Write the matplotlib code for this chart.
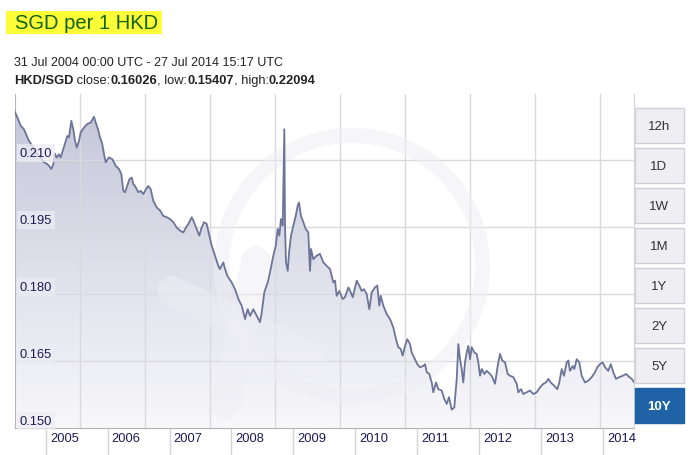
import matplotlib.pyplot as plt
import numpy as np
from matplotlib.patches import Polygon, Rectangle, Wedge
from matplotlib.lines import Line2D
from matplotlib.transforms import IdentityTransform

plt.rcParams['font.family'] = ['Liberation Sans', 'DejaVu Sans']

# decimal years and SGD per 1 HKD
years = [2004.499, 2004.541, 2004.596, 2004.649, 2004.703, 2004.730, 2004.784, 2004.822,
         2004.864, 2004.919, 2004.973, 2005.026, 2005.053, 2005.090, 2005.123, 2005.145,
         2005.178, 2005.215, 2005.242, 2005.284, 2005.323, 2005.349, 2005.376, 2005.414,
         2005.446, 2005.473, 2005.501, 2005.538, 2005.565, 2005.619, 2005.672, 2005.727,
         2005.780, 2005.808, 2005.845, 2005.877, 2005.914, 2005.942, 2005.969, 2006.023,
         2006.076, 2006.131, 2006.184, 2006.221, 2006.254, 2006.281, 2006.309, 2006.351,
         2006.389, 2006.415, 2006.443, 2006.470, 2006.496, 2006.535, 2006.577, 2006.620,
         2006.658, 2006.696, 2006.738, 2006.793, 2006.847, 2006.900, 2006.955, 2007.008,
         2007.061, 2007.116, 2007.170, 2007.223, 2007.267, 2007.304, 2007.359, 2007.396,
         2007.439, 2007.481, 2007.520, 2007.557, 2007.601, 2007.643, 2007.682, 2007.735,
         2007.788, 2007.816, 2007.869, 2007.897, 2007.934, 2007.966, 2008.005, 2008.058,
         2008.112, 2008.166, 2008.220, 2008.263, 2008.301, 2008.354, 2008.409, 2008.462,
         2008.490, 2008.532, 2008.586, 2008.624, 2008.677, 2008.716, 2008.748, 2008.774,
         2008.801, 2008.829, 2008.855, 2008.866, 2008.882, 2008.910, 2008.931, 2008.963,
         2009.000, 2009.039, 2009.071, 2009.092, 2009.124, 2009.162, 2009.200, 2009.242,
         2009.270, 2009.286, 2009.323, 2009.378, 2009.431, 2009.485, 2009.540, 2009.593,
         2009.646, 2009.674, 2009.701, 2009.743, 2009.798, 2009.835, 2009.889, 2009.927,
         2009.960, 2010.024, 2010.066, 2010.105, 2010.142, 2010.186, 2010.228, 2010.267,
         2010.320, 2010.357, 2010.389, 2010.412, 2010.454, 2010.509, 2010.562, 2010.616,
         2010.659, 2010.696, 2010.735, 2010.767, 2010.805, 2010.842, 2010.885, 2010.913,
         2010.966, 2011.003, 2011.047, 2011.100, 2011.128, 2011.155, 2011.197, 2011.236,
         2011.262, 2011.305, 2011.342, 2011.397, 2011.439, 2011.478, 2011.515, 2011.559,
         2011.601, 2011.640, 2011.666, 2011.693, 2011.720, 2011.746, 2011.774, 2011.801,
         2011.827, 2011.855, 2011.882, 2011.924, 2011.963, 2011.989, 2012.016, 2012.044,
         2012.086, 2012.124, 2012.178, 2012.215, 2012.259, 2012.302, 2012.339, 2012.376,
         2012.420, 2012.464, 2012.501, 2012.554, 2012.609, 2012.635, 2012.679, 2012.716,
         2012.771, 2012.824, 2012.877, 2012.932, 2012.986, 2013.039, 2013.082, 2013.120,
         2013.158, 2013.212, 2013.265, 2013.297, 2013.336, 2013.373, 2013.417, 2013.443,
         2013.470, 2013.514, 2013.540, 2013.578, 2013.620, 2013.659, 2013.712, 2013.766,
         2013.821, 2013.874, 2013.911, 2013.955, 2013.998, 2014.036, 2014.089, 2014.128,
         2014.170, 2014.213, 2014.267, 2014.322, 2014.375, 2014.428, 2014.467, 2014.504]
rates = [0.2209, 0.2196, 0.2177, 0.2169, 0.2151, 0.2143, 0.2132, 0.2121,
         0.2113, 0.2106, 0.2095, 0.2091, 0.2087, 0.2080, 0.2091, 0.2115,
         0.2106, 0.2113, 0.2106, 0.2125, 0.2143, 0.2154, 0.2151, 0.2188,
         0.2169, 0.2143, 0.2128, 0.2143, 0.2162, 0.2173, 0.2181, 0.2184,
         0.2197, 0.2184, 0.2169, 0.2151, 0.2136, 0.2113, 0.2095, 0.2106,
         0.2102, 0.2087, 0.2080, 0.2069, 0.2031, 0.2028, 0.2039, 0.2057,
         0.2061, 0.2046, 0.2042, 0.2035, 0.2028, 0.2031, 0.2024, 0.2035,
         0.2042, 0.2035, 0.2009, 0.1994, 0.1987, 0.1975, 0.1972, 0.1968,
         0.1961, 0.1949, 0.1942, 0.1938, 0.1949, 0.1957, 0.1972, 0.1961,
         0.1946, 0.1931, 0.1949, 0.1961, 0.1957, 0.1931, 0.1908, 0.1886,
         0.1863, 0.1856, 0.1871, 0.1856, 0.1841, 0.1834, 0.1826, 0.1811,
         0.1789, 0.1774, 0.1744, 0.1766, 0.1751, 0.1766, 0.1751, 0.1737,
         0.1759, 0.1804, 0.1826, 0.1849, 0.1886, 0.1908, 0.1946, 0.1931,
         0.1968, 0.1953, 0.2169, 0.1953, 0.1871, 0.1852, 0.1893, 0.1931,
         0.1953, 0.1975, 0.1998, 0.2005, 0.1975, 0.1961, 0.1946, 0.1938,
         0.1852, 0.1901, 0.1878, 0.1886, 0.1890, 0.1871, 0.1863, 0.1856,
         0.1826, 0.1830, 0.1796, 0.1807, 0.1789, 0.1793, 0.1815, 0.1804,
         0.1793, 0.1830, 0.1819, 0.1807, 0.1811, 0.1800, 0.1766, 0.1804,
         0.1815, 0.1819, 0.1774, 0.1796, 0.1774, 0.1755, 0.1744, 0.1725,
         0.1699, 0.1681, 0.1677, 0.1662, 0.1684, 0.1699, 0.1688, 0.1669,
         0.1654, 0.1643, 0.1636, 0.1639, 0.1643, 0.1625, 0.1621, 0.1602,
         0.1580, 0.1602, 0.1587, 0.1584, 0.1565, 0.1554, 0.1569, 0.1541,
         0.1546, 0.1610, 0.1688, 0.1654, 0.1632, 0.1602, 0.1647, 0.1669,
         0.1684, 0.1654, 0.1681, 0.1669, 0.1666, 0.1647, 0.1617, 0.1632,
         0.1621, 0.1628, 0.1621, 0.1614, 0.1599, 0.1639, 0.1666, 0.1651,
         0.1647, 0.1621, 0.1617, 0.1614, 0.1599, 0.1580, 0.1587, 0.1576,
         0.1580, 0.1584, 0.1576, 0.1580, 0.1591, 0.1599, 0.1602, 0.1610,
         0.1602, 0.1595, 0.1587, 0.1602, 0.1632, 0.1617, 0.1647, 0.1651,
         0.1628, 0.1639, 0.1632, 0.1654, 0.1647, 0.1617, 0.1602, 0.1606,
         0.1614, 0.1625, 0.1636, 0.1643, 0.1647, 0.1636, 0.1628, 0.1643,
         0.1625, 0.1610, 0.1614, 0.1617, 0.1621, 0.1614, 0.1610, 0.1603]

y_ticks = [0.150, 0.165, 0.180, 0.195, 0.210]
year_ticks = [2005, 2006, 2007, 2008, 2009, 2010, 2011, 2012, 2013, 2014]
ranges = ['12h', '1D', '1W', '1M', '1Y', '2Y', '5Y', '10Y']
active_range = '10Y'
stats = [('HKD/SGD', 'bold'), (' close:', 'normal'), ('0.16026', 'bold'), (', low:', 'normal'),
         ('0.15407', 'bold'), (', high:', 'normal'), ('0.22094', 'bold')]

W, H = 696, 456
fig = plt.figure(figsize=(W / 100, H / 100), dpi=100)
ax = fig.add_axes([14.7 / W, 1 - 429 / H, (634 - 14.7) / W, (429 - 95) / H])

x0, x1 = years[0], years[-1]
y0, y1 = 0.150, 0.2248
ax.set_xlim(x0, x1)
ax.set_ylim(y0, y1)

# gradient fill under the curve
g = np.linspace(0, 1, 256)[:, None, None]
top_c = np.array([194, 197, 216]) / 255
bot_c = np.array([248, 248, 251]) / 255
img = top_c + (bot_c - top_c) * g
im = ax.imshow(img, extent=[x0, x1, y0, y1], origin='upper', aspect='auto', zorder=1)
verts = [(years[0], y0)] + list(zip(years, rates)) + [(years[-1], y0)]
clip = Polygon(verts, closed=True, facecolor='none', edgecolor='none', transform=ax.transData)
ax.add_patch(clip)
im.set_clip_path(clip)

# faint logo watermark (pixel coords, y measured from top)
wm_color, wm_alpha = '#eeeef4', 0.5
ax.add_artist(Wedge((352, H - 267), 138, 0, 360, width=15, transform=IdentityTransform(),
                    facecolor=wm_color, edgecolor='none', alpha=wm_alpha, zorder=3))
for (ax_, ay_), (bx_, by_) in [((172, 292), (312, 358)), ((226, 405), (256, 262))]:
    ax.add_artist(Line2D([ax_, bx_], [H - ay_, H - by_], transform=IdentityTransform(),
                         lw=21, solid_capstyle='round', color=wm_color,
                         alpha=wm_alpha, zorder=3))

# grid
for v in y_ticks[1:]:
    ax.axhline(v, color='#d9d9de', lw=1, zorder=2)
step = 65 / 61.9  # vertical grid spacing in years
for k in range(1, 10):
    ax.axvline(x0 + k * step, color='#d9d9de', lw=1, zorder=2)

ax.plot(years, rates, color='#6c7498', lw=1.3, zorder=4)

# y labels inside the plot
for v in y_ticks:
    ax.text(0.008, v + 0.0003, f'{v:.3f}', transform=ax.get_yaxis_transform(),
            fontsize=9.3, color='#1b1b58', va='bottom', ha='left', zorder=5,
            bbox=dict(facecolor='#ececf3', edgecolor='none', alpha=0.75, pad=2))

ax.set_yticks([])
ax.set_xticks(year_ticks)
ax.set_xticklabels([])
ax.tick_params(axis='x', length=20, width=1, color='#d4d4d8', direction='out')
for yr in year_ticks:
    ax.annotate(str(yr), xy=(yr, 0), xycoords=ax.get_xaxis_transform(),
                xytext=(3, -7.5), textcoords='offset points',
                fontsize=9.3, color='#1b1b58', ha='left', va='center', annotation_clip=False)

ax.spines['top'].set_visible(False)
ax.spines['right'].set_color('#d4d4d8')
ax.spines['left'].set_color('#b0b4cc')
ax.spines['bottom'].set_color('#b4b4bc')

# title with highlight
fig.patches.append(Rectangle((6 / W, 1 - 35 / H), 156 / W, 23 / H, transform=fig.transFigure,
                             facecolor='#fdfd38', edgecolor='none'))
fig.text(15 / W, 1 - 24 / H, 'SGD per 1 HKD', fontsize=14.5, color='#136313', va='center')

fig.text(14 / W, 1 - 63 / H, '31 Jul 2004 00:00 UTC - 27 Jul 2014 15:17 UTC',
         fontsize=9, color='#222222', va='center')

# stats line, mixed weights chained one after another
prev = fig.text(14 / W, 1 - 81 / H, stats[0][0], fontsize=9.3, fontweight=stats[0][1],
                color='#222222', va='center')
for txt, wt in stats[1:]:
    prev = fig.add_artist(plt.Annotation(txt, xy=(1, 0), xycoords=prev, fontsize=9.3,
                                         fontweight=wt, color='#222222',
                                         va='bottom', ha='left', annotation_clip=False))

# range buttons
for i, lab in enumerate(ranges):
    top = 109.3 + 40 * i
    on = lab == active_range
    fig.patches.append(Rectangle((634.5 / W, 1 - (top + 35) / H), 49 / W, 35 / H,
                                 transform=fig.transFigure, lw=1,
                                 facecolor='#1f63a6' if on else '#efeff3',
                                 edgecolor='#1f63a6' if on else '#cfd0d8'))
    fig.text(659 / W, 1 - (top + 17.5) / H, lab, fontsize=9.5, ha='center', va='center',
             color='white' if on else '#333333', fontweight='bold' if on else 'normal')

fig.savefig('out.png', dpi=100)
